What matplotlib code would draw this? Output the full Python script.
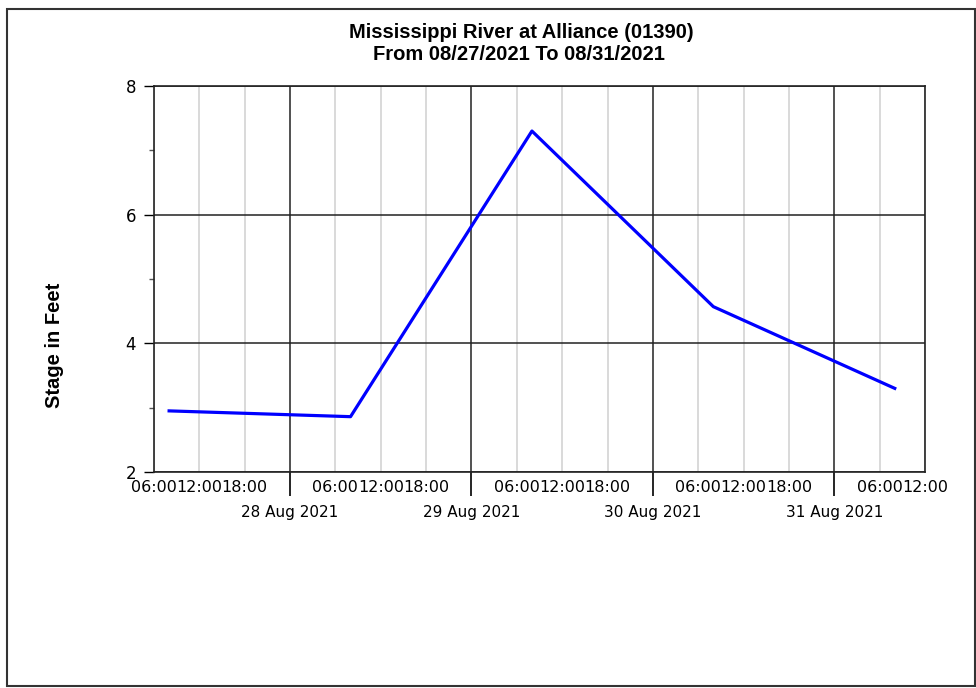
"""Stage hydrograph: Mississippi River at Alliance, 08/27/2021 - 08/31/2021."""

import datetime as dt

import matplotlib
matplotlib.use("Agg")
import matplotlib.dates as mdates
import matplotlib.pyplot as plt
from matplotlib.patches import Rectangle
from matplotlib.ticker import MultipleLocator

# Data (daily readings at 08:00)
times = [
    dt.datetime(2021, 8, 27, 8),
    dt.datetime(2021, 8, 28, 8),
    dt.datetime(2021, 8, 29, 8),
    dt.datetime(2021, 8, 30, 8),
    dt.datetime(2021, 8, 31, 8),
]
stage = [2.95, 2.86, 7.30, 4.57, 3.30]

x_start = dt.datetime(2021, 8, 27, 6)
x_end = dt.datetime(2021, 8, 31, 12)

fig = plt.figure(figsize=(9.76, 6.88), dpi=100)
ax = fig.add_axes([154 / 976, 1 - 472 / 688, 771 / 976, 386 / 688])

ax.plot(times, stage, color="#0000ff", linewidth=2.3, zorder=3)

ax.set_xlim(x_start, x_end)
ax.set_ylim(2, 8)

# y axis
ax.yaxis.set_major_locator(MultipleLocator(2))
ax.yaxis.set_minor_locator(MultipleLocator(1))
ax.tick_params(axis="y", which="major", direction="out", length=7, width=1,
               labelsize=12, pad=6)
ax.tick_params(axis="y", which="minor", direction="out", length=3.5, width=1,
               color="#555555")

# x axis: days as major, 6-hour marks as minor
ax.xaxis.set_major_locator(mdates.DayLocator())
ax.xaxis.set_major_formatter(mdates.DateFormatter("%d %b %Y"))
ax.xaxis.set_minor_locator(mdates.HourLocator(byhour=[6, 12, 18]))
ax.xaxis.set_minor_formatter(mdates.DateFormatter("%H:%M"))
ax.tick_params(axis="x", which="major", direction="out", length=17, width=1.2,
               labelsize=11, pad=7)
ax.tick_params(axis="x", which="minor", length=0, labelsize=11.5, pad=6)

# grid
ax.grid(True, which="major", axis="both", color="#222222", linewidth=1.1, zorder=1)
ax.grid(True, which="minor", axis="x", color="#cfcfcf", linewidth=1.1, zorder=0)
ax.set_axisbelow(True)

for s in ax.spines.values():
    s.set_color("#222222")
    s.set_linewidth(1.2)

# y label, placed lower than the axes centre as in the original
fig.text(54 / 976, 1 - 345 / 688, "Stage in Feet", rotation=90,
         ha="center", va="center", fontsize=14.5, fontweight="bold",
         family="Liberation Sans")

# title
fig.text(521 / 976, 1 - 33 / 688, "Mississippi River at Alliance (01390)",
         ha="center", va="center", fontsize=14.5, fontweight="bold",
         family="Liberation Sans")
fig.text(519 / 976, 1 - 55 / 688, "From 08/27/2021 To 08/31/2021",
         ha="center", va="center", fontsize=14.5, fontweight="bold",
         family="Liberation Sans")

# outer frame
fig.patches.append(Rectangle((7 / 976, 2 / 688), 968 / 976, 677 / 688,
                             transform=fig.transFigure, fill=False,
                             edgecolor="#333333", linewidth=1.5))

fig.savefig("out.png", dpi=100, facecolor="white")
plt.close(fig)
